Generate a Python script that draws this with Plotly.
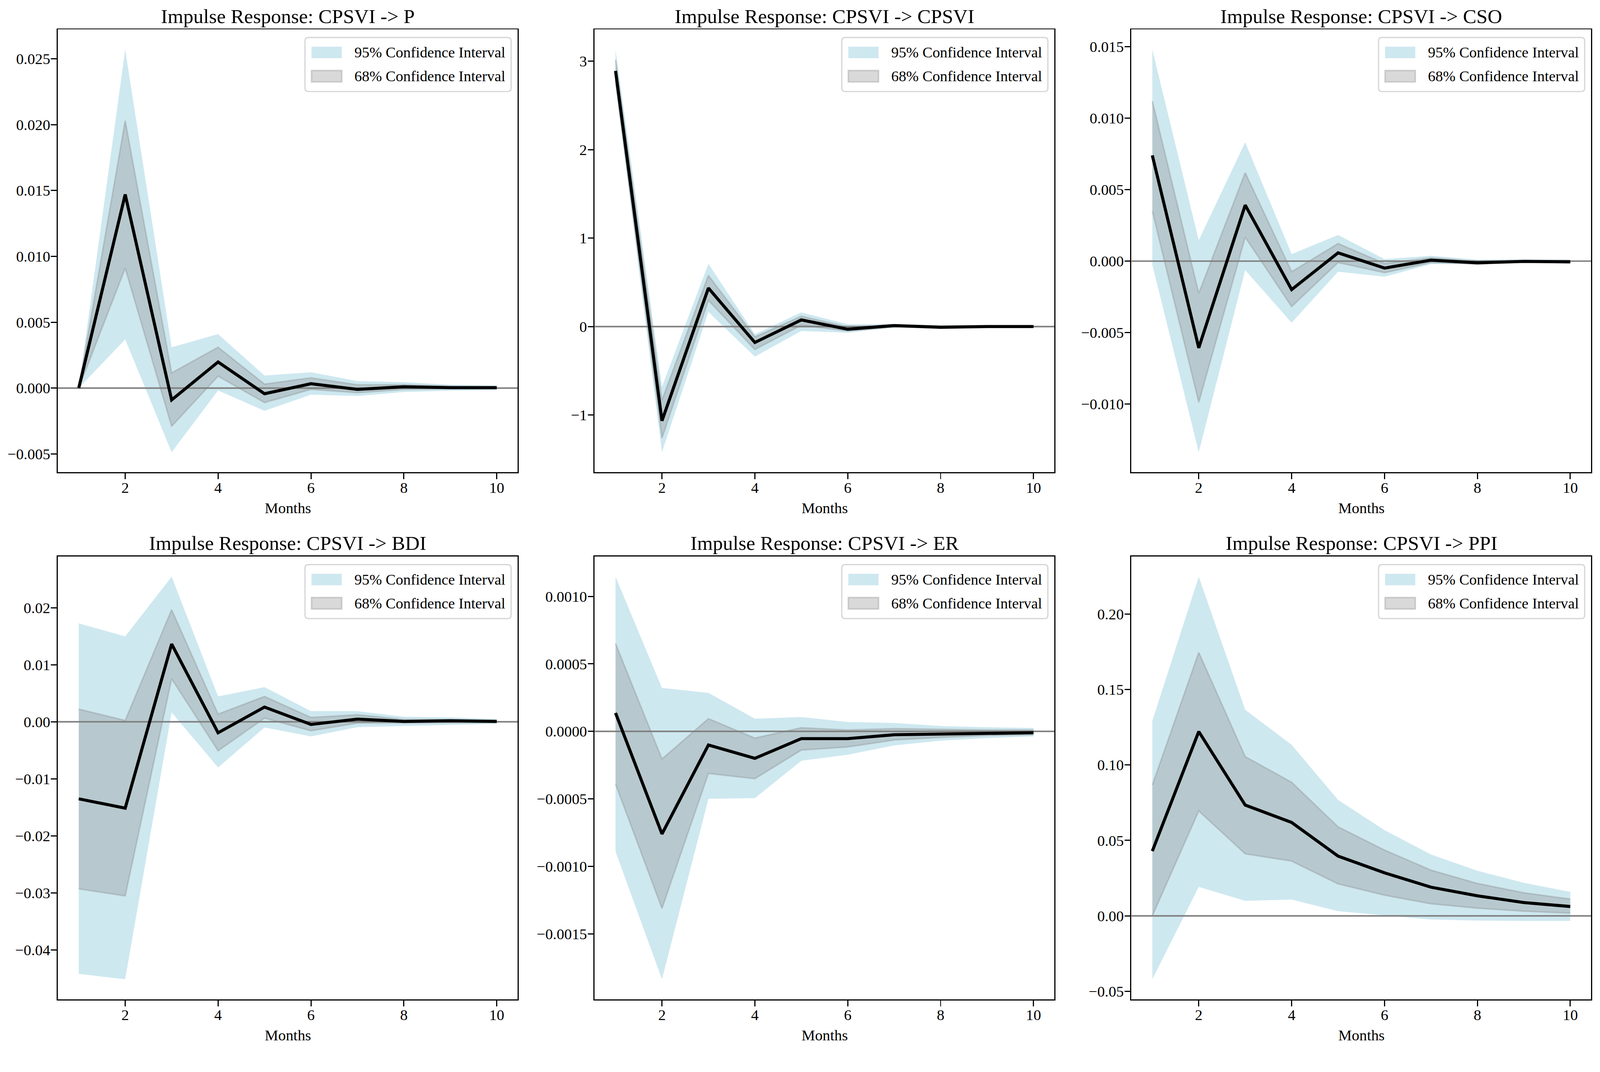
import plotly.graph_objects as go

# ---------------- data ----------------
months = [1, 2, 3, 4, 5, 6, 7, 8, 9, 10]

titles = [
    "Impulse Response: CPSVI -> P",
    "Impulse Response: CPSVI -> CPSVI",
    "Impulse Response: CPSVI -> CSO",
    "Impulse Response: CPSVI -> BDI",
    "Impulse Response: CPSVI -> ER",
    "Impulse Response: CPSVI -> PPI",
]
x_label = "Months"
legend_95 = "95% Confidence Interval"
legend_68 = "68% Confidence Interval"

# CPSVI -> P
p_irf = [0.0, 0.0147, -0.0009, 0.00198, -0.00043, 0.00033, -0.0001, 0.0001, 0.00003, 0.00003]
p_u95 = [0.0, 0.0257, 0.0031, 0.0041, 0.00095, 0.0012, 0.00053, 0.00045, 0.00025, 0.0002]
p_l95 = [0.0, 0.0037, -0.00487, -0.00018, -0.00173, -0.0005, -0.0006, -0.0003, -0.0002, -0.00015]
p_u68 = [0.0, 0.0203, 0.00115, 0.0031, 0.0003, 0.00078, 0.00025, 0.00025, 0.00015, 0.0001]
p_l68 = [0.0, 0.0091, -0.0029, 0.0009, -0.0011, -0.0001, -0.00035, -0.0001, -0.00005, -0.00005]

# CPSVI -> CPSVI
c_irf = [2.89, -1.065, 0.435, -0.18, 0.075, -0.03, 0.011, -0.008, 0.0, 0.0]
c_u95 = [3.13, -0.68, 0.71, -0.086, 0.16, 0.026, 0.026, 0.015, 0.015, 0.011]
c_l95 = [2.72, -1.42, 0.165, -0.34, -0.05, -0.07, -0.01, -0.022, -0.015, -0.015]
c_u68 = [3.015, -0.83, 0.578, -0.116, 0.116, -0.004, 0.019, 0.004, 0.008, 0.006]
c_l68 = [2.78, -1.26, 0.296, -0.26, 0.015, -0.05, -0.004, -0.015, -0.01, -0.01]

# CPSVI -> CSO
s_irf = [0.0074, -0.00607, 0.00392, -0.00199, 0.00058, -0.00049, 0.00007, -0.00012, -0.00002, -0.00005]
s_u95 = [0.0148, 0.00146, 0.00832, 0.00049, 0.00183, 0.00014, 0.00037, 0.0001, 0.00012, 0.0001]
s_l95 = [-0.00025, -0.01337, -0.00063, -0.00431, -0.00074, -0.00109, -0.00021, -0.00021, -0.0001, -0.00012]
s_u68 = [0.0112, -0.00225, 0.00619, -0.00074, 0.00123, -0.00016, 0.00023, 0.0, 0.00005, 0.00005]
s_l68 = [0.0035, -0.00988, 0.00167, -0.00318, -0.0001, -0.00081, -0.0001, -0.0002, -0.00007, -0.0001]

# CPSVI -> BDI
b_irf = [-0.01351, -0.01515, 0.01363, -0.00193, 0.00257, -0.00047, 0.00047, 0.00006, 0.00018, 0.00006]
b_u95 = [0.01725, 0.01497, 0.02544, 0.00444, 0.00608, 0.00187, 0.00187, 0.00088, 0.00076, 0.00047]
b_l95 = [-0.04421, -0.04515, 0.00164, -0.00801, -0.00099, -0.00257, -0.00094, -0.00076, -0.00053, -0.00035]
b_u68 = [0.00222, 0.00023, 0.01965, 0.00134, 0.00444, 0.00076, 0.00123, 0.00041, 0.00041, 0.00023]
b_l68 = [-0.0293, -0.03053, 0.00754, -0.00509, 0.00064, -0.00158, -0.00023, -0.00023, -0.00018, -0.00012]

# CPSVI -> ER
e_irf = [0.000136, -0.00076, -0.000101, -0.0002, -0.000054, -0.000054, -0.000025, -0.00002, -0.00001, -0.00001]
e_u95 = [0.001146, 0.000322, 0.000285, 0.000094, 0.000106, 0.000069, 0.000062, 0.00004, 0.00003, 0.000025]
e_l95 = [-0.000891, -0.001837, -0.0005, -0.000495, -0.000218, -0.000173, -0.000104, -0.000069, -0.00005, -0.000037]
e_u68 = [0.000651, -0.000205, 0.000094, -0.00005, 0.000027, 0.00001, 0.00002, 0.000015, 0.00001, 0.00001]
e_l68 = [-0.000391, -0.001312, -0.000312, -0.000351, -0.000139, -0.000116, -0.000064, -0.000045, -0.00003, -0.000025]

# CPSVI -> PPI
q_irf = [0.0429, 0.1221, 0.0734, 0.0619, 0.0396, 0.0285, 0.019, 0.0133, 0.0088, 0.0062]
q_u95 = [0.1292, 0.2247, 0.1365, 0.1133, 0.0768, 0.0568, 0.0407, 0.0299, 0.0219, 0.0159]
q_l95 = [-0.042, 0.0192, 0.00995, 0.0108, 0.0031, 0.0004, -0.0024, -0.0031, -0.0033, -0.0033]
q_u68 = [0.0867, 0.1745, 0.1055, 0.0885, 0.059, 0.0436, 0.0303, 0.0215, 0.0153, 0.0111]
q_l68 = [0.0, 0.0695, 0.0411, 0.0363, 0.0212, 0.0137, 0.008, 0.0051, 0.0031, 0.0018]

panels = [
    (p_irf, p_l95, p_u95, p_l68, p_u68),
    (c_irf, c_l95, c_u95, c_l68, c_u68),
    (s_irf, s_l95, s_u95, s_l68, s_u68),
    (b_irf, b_l95, b_u95, b_l68, b_u68),
    (e_irf, e_l95, e_u95, e_l68, e_u68),
    (q_irf, q_l95, q_u95, q_l68, q_u68),
]

# ---------------- style ----------------
W, H = 4176, 2745
FONT = "Liberation Serif, Times New Roman, serif"
TICK_PX = 39.6
LEG_PX = 39.2
TITLE_PX = 52.5
tick_formats = [".3f", "d", ".3f", ".2f", ".4f", ".2f"]
tick_steps = [0.005, 1, 0.005, 0.01, 0.0005, 0.05]

col_px = [(151, 1351), (1552, 2752), (2953, 4153)]
row_px = [(77, 1234), (1454, 2611)]

BLUE_FILL = "rgba(173,216,230,0.6)"
GRAY_FILL = "rgba(128,128,128,0.3)"


def rounded_box(x0, x1, y0, y1, r):
    # pixel path, y positive upward (y0 top, y1 bottom)
    return (f"M {x0 + r} {y0} L {x1 - r} {y0} Q {x1} {y0} {x1} {y0 - r} "
            f"L {x1} {y1 + r} Q {x1} {y1} {x1 - r} {y1} "
            f"L {x0 + r} {y1} Q {x0} {y1} {x0} {y1 + r} "
            f"L {x0} {y0 - r} Q {x0} {y0} {x0 + r} {y0} Z")


fig = go.Figure()

xmin, xmax = min(months), max(months)
xpad = 0.05 * (xmax - xmin)
xr = [xmin - xpad, xmax + xpad]

annotations = []
shapes = []
layout_axes = {}

for i, (irf, l95, u95, l68, u68) in enumerate(panels):
    r, c = divmod(i, 3)
    n = "" if i == 0 else str(i + 1)
    xa, ya = "x" + n, "y" + n
    x0p, x1p = col_px[c]
    y0p, y1p = row_px[r]
    xdom = [x0p / W, x1p / W]
    ydom = [1 - y1p / H, 1 - y0p / H]

    fig.add_trace(go.Scatter(x=months, y=l95, mode="lines", line=dict(width=0, color=BLUE_FILL),
                             showlegend=False, hoverinfo="skip", xaxis=xa, yaxis=ya))
    fig.add_trace(go.Scatter(x=months, y=u95, mode="lines", line=dict(width=0, color=BLUE_FILL),
                             fill="tonexty", fillcolor=BLUE_FILL, name=legend_95,
                             showlegend=False, xaxis=xa, yaxis=ya, hoverinfo="skip"))
    fig.add_trace(go.Scatter(x=months, y=l68, mode="lines", line=dict(width=4, color=GRAY_FILL),
                             showlegend=False, hoverinfo="skip", xaxis=xa, yaxis=ya))
    fig.add_trace(go.Scatter(x=months, y=u68, mode="lines", line=dict(width=4, color=GRAY_FILL),
                             fill="tonexty", fillcolor=GRAY_FILL, name=legend_68,
                             showlegend=False, xaxis=xa, yaxis=ya, hoverinfo="skip"))
    fig.add_trace(go.Scatter(x=xr, y=[0, 0], mode="lines", line=dict(width=4, color="#808080"),
                             showlegend=False, hoverinfo="skip", xaxis=xa, yaxis=ya))
    fig.add_trace(go.Scatter(x=months, y=irf, mode="lines", line=dict(width=8, color="black"),
                             showlegend=False, xaxis=xa, yaxis=ya, name="IRF"))

    allv = irf + l95 + u95 + l68 + u68
    lo, hi = min(allv), max(allv)
    pad = 0.05 * (hi - lo)

    axis_common = dict(showline=True, mirror=True, linecolor="black", linewidth=3,
                       ticks="outside", ticklen=15, tickwidth=3, tickcolor="black",
                       showgrid=False, zeroline=False,
                       tickfont=dict(family=FONT, size=TICK_PX, color="black"))
    layout_axes["xaxis" + n] = dict(domain=xdom, anchor=ya, range=xr, tick0=0, dtick=2,
                                    ticklabelstandoff=-12, **axis_common)
    layout_axes["yaxis" + n] = dict(domain=ydom, anchor=xa, range=[lo - pad, hi + pad],
                                    tick0=0, dtick=tick_steps[i], tickformat=tick_formats[i],
                                    ticklabelstandoff=-6, **axis_common)

    xd, yd = xa + " domain", ya + " domain"
    pix = dict(xref=xd, yref=yd, xsizemode="pixel", ysizemode="pixel", xanchor=1, yanchor=1,
               layer="above")
    # legend frame
    shapes.append(dict(type="path", path=rounded_box(-555, -17, -21, -162, 9),
                       fillcolor="rgba(255,255,255,0.8)",
                       line=dict(color="#d4d4d4", width=3), **pix))
    # legend handles
    shapes.append(dict(type="rect", x0=-538, x1=-459, y0=-45, y1=-75,
                       fillcolor=BLUE_FILL, line=dict(width=0), **pix))
    shapes.append(dict(type="rect", x0=-538, x1=-459, y0=-107, y1=-137,
                       fillcolor=GRAY_FILL, line=dict(color=GRAY_FILL, width=4), **pix))
    for lab, ys in ((legend_95, -60), (legend_68, -122)):
        annotations.append(dict(text=lab, xref=xd, yref=yd, x=1, y=1, xanchor="left",
                                yanchor="middle", xshift=-428, yshift=ys, showarrow=False,
                                font=dict(family=FONT, size=LEG_PX, color="black")))

    annotations.append(dict(text=titles[i], xref=xd, yref=yd, x=0.5, y=1, xanchor="center",
                            yanchor="middle", yshift=35, showarrow=False,
                            font=dict(family=FONT, size=TITLE_PX, color="black")))
    annotations.append(dict(text=x_label, xref=xd, yref=yd, x=0.5, y=0, xanchor="center",
                            yanchor="middle", yshift=-94, showarrow=False,
                            font=dict(family=FONT, size=TICK_PX, color="black")))

fig.update_layout(width=W, height=H, margin=dict(l=0, r=0, t=0, b=0),
                  paper_bgcolor="white", plot_bgcolor="white", showlegend=False,
                  font=dict(family=FONT, color="black"),
                  annotations=annotations, shapes=shapes, **layout_axes)

fit_js = """
var gd = document.getElementById('{plot_id}');
document.documentElement.style.margin = '0';
document.body.style.margin = '0';
document.documentElement.style.overflow = 'hidden';
document.body.style.overflow = 'hidden';
var s = Math.min(window.innerWidth / %d, window.innerHeight / %d);
gd.style.transformOrigin = '0 0';
gd.style.transform = 'scale(' + s + ')';
""" % (W, H)

fig.write_html("out.html", post_script=fit_js, config={"displayModeBar": False})
